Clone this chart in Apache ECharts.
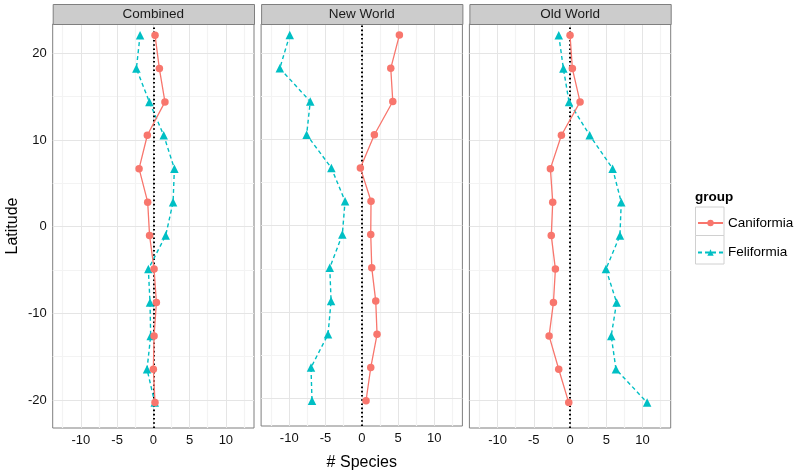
<!DOCTYPE html>
<html><head><meta charset="utf-8">
<script src="https://cdn.jsdelivr.net/npm/echarts@6/dist/echarts.min.js"></script>
<style>html,body{margin:0;padding:0;background:#fff}#c{width:795px;height:476px}</style>
</head><body><div id="c"></div>
<script>
// ---- data ----
const panels = ['Combined', 'New World', 'Old World'];
const groups = ['Caniformia', 'Feliformia'];
const latitude = [22.1, 18.25, 14.4, 10.55, 6.7, 2.83, -1.03, -4.89, -8.74, -12.6, -16.45, -20.3];
const combinedCaniformia = [0.23, 0.83, 1.6, -0.83, -1.97, -0.78, -0.52, 0.1, 0.42, 0.1, 0.0, 0.23];
const combinedFeliformia = [-1.83, -2.34, -0.55, 1.43, 2.9, 2.72, 1.7, -0.69, -0.46, -0.37, -0.87, 0.19];
const newCaniformia = [5.19, 4.0, 4.28, 1.74, -0.19, 1.28, 1.24, 1.38, 1.93, 2.11, 1.24, 0.59];
const newFeliformia = [-9.93, -11.3, -7.1, -7.6, -4.19, -2.3, -2.68, -4.41, -4.23, -4.65, -7.0, -6.86];
const oldCaniformia = [0.0, 0.32, 1.38, -1.19, -2.71, -2.39, -2.59, -2.02, -2.29, -2.89, -1.56, -0.18];
const oldFeliformia = [-1.56, -0.92, -0.14, 2.71, 5.87, 7.06, 6.88, 4.95, 6.42, 5.68, 6.33, 10.63];
const xTickLabels = [-10, -5, 0, 5, 10];
const yTickLabels = [-20, -10, 0, 10, 20];
const xMinor = [-12.5, -7.5, -2.5, 2.5, 7.5, 12.5];
const yMinor = [-15, -5, 5, 15];

// ---- layout / style ----
const FONT = '"Liberation Sans", Arial, Helvetica, sans-serif';
const RED = '#F8766D', TEAL = '#00BFC4';
const panelLefts = [52.7, 261.1, 469.4];
const panelW = 201.3, panelTop = 24, panelH = 404;
const xRange = [-13.88, 13.88];
const yRange = [-23.23, 23.39];
const panelData = [
  [combinedCaniformia, combinedFeliformia],
  [newCaniformia, newFeliformia],
  [oldCaniformia, oldFeliformia]
];
const zip = (xs) => xs.map((v, i) => [v, latitude[i]]);

const grids = [], xAxes = [], yAxes = [], series = [], graphics = [];
panels.forEach((name, p) => {
  grids.push({left: panelLefts[p], top: panelTop, width: panelW, height: panelH,
    show: true, backgroundColor: '#fff', borderColor: '#7f7f7f', borderWidth: 1, z: 0});
  xAxes.push({type: 'value', gridIndex: p, min: xRange[0], max: xRange[1],
    axisLine: {show: false}, splitLine: {show: false},
    axisTick: {show: true, customValues: xTickLabels, length: 5, lineStyle: {color: '#333', width: 1}},
    axisLabel: {customValues: xTickLabels, color: '#111', fontSize: 13, fontFamily: FONT, margin: 6},
    name: p === 1 ? '# Species' : '', nameLocation: 'middle', nameGap: 29,
    nameTextStyle: {fontSize: 16, color: '#000', fontFamily: FONT}});
  yAxes.push({type: 'value', gridIndex: p, min: yRange[0], max: yRange[1],
    axisLine: {show: false}, splitLine: {show: false},
    axisTick: {show: p === 0, customValues: yTickLabels, length: 5, lineStyle: {color: '#333', width: 1}},
    axisLabel: {show: p === 0, customValues: yTickLabels, color: '#111', fontSize: 13, fontFamily: FONT, margin: 6},
    name: p === 0 ? 'Latitude' : '', nameLocation: 'middle', nameGap: 32,
    nameTextStyle: {fontSize: 16, color: '#000', fontFamily: FONT}});
  // gridlines via markLine on helper series
  const gl = [];
  xMinor.forEach(v => gl.push({xAxis: v, lineStyle: {color: '#f3f3f3', width: 1.2, type: 'solid'}}));
  yMinor.forEach(v => gl.push({yAxis: v, lineStyle: {color: '#f3f3f3', width: 1.2, type: 'solid'}}));
  xTickLabels.forEach(v => gl.push({xAxis: v, lineStyle: {color: '#e5e5e5', width: 1, type: 'solid'}}));
  yTickLabels.forEach(v => gl.push({yAxis: v, lineStyle: {color: '#e5e5e5', width: 1, type: 'solid'}}));
  series.push({type: 'line', name: '_grid' + p, xAxisIndex: p, yAxisIndex: p, data: [[0, 0]],
    showSymbol: false, lineStyle: {opacity: 0}, silent: true, z: 1, animation: false,
    markLine: {silent: true, symbol: ['none', 'none'], label: {show: false}, z: 1, animation: false, data: gl}});
  series.push({type: 'line', name: '_zero' + p, xAxisIndex: p, yAxisIndex: p, data: [[0, 0]],
    showSymbol: false, lineStyle: {opacity: 0}, silent: true, z: 2, animation: false,
    markLine: {silent: true, symbol: ['none', 'none'], label: {show: false}, z: 2, animation: false,
      data: [{xAxis: 0, lineStyle: {color: '#000', width: 2, type: [1.6, 2.6]}}]}});
  series.push({type: 'line', name: groups[0], xAxisIndex: p, yAxisIndex: p, data: zip(panelData[p][0]),
    symbol: 'circle', symbolSize: 7.5, showSymbol: true, z: 4, animation: false,
    itemStyle: {color: RED}, lineStyle: {color: RED, width: 1.3, type: 'solid'}});
  series.push({type: 'line', name: groups[1], xAxisIndex: p, yAxisIndex: p, data: zip(panelData[p][1]),
    symbol: 'triangle', symbolSize: 8.5, showSymbol: true, z: 3, animation: false,
    itemStyle: {color: TEAL}, lineStyle: {color: TEAL, width: 1.4, type: [4, 3]}});
  // facet strip
  graphics.push({type: 'rect', left: panelLefts[p], top: 4, z: 10,
    shape: {width: panelW, height: 20}, style: {fill: '#cccccc', stroke: '#7f7f7f', lineWidth: 1}});
  graphics.push({type: 'text', x: panelLefts[p] + panelW / 2, y: 14, z: 11,
    style: {text: name, fill: '#1a1a1a', font: '13.5px ' + FONT, textAlign: 'center', textVerticalAlign: 'middle'}});
});

// legend decorations
graphics.push({type: 'text', x: 695, y: 197, z: 11,
  style: {text: 'group', fill: '#000', font: 'bold 13.5px ' + FONT, textAlign: 'left', textVerticalAlign: 'middle'}});
groups.forEach((g, i) => {
  graphics.push({type: 'rect', x: 695.5, y: 207 + i * 28.5, z: 1,
    shape: {width: 28.5, height: 28.5}, style: {fill: '#fff', stroke: '#d0d0d0', lineWidth: 1}});
});

const chart = echarts.init(document.getElementById('c'), null, {renderer: 'canvas'});
chart.setOption({
  animation: false,
  backgroundColor: '#fff',
  textStyle: {fontFamily: FONT},
  grid: grids, xAxis: xAxes, yAxis: yAxes,
  legend: {data: groups, orient: 'vertical', left: 697, top: 216, padding: 0, itemWidth: 25, itemHeight: 8,
    itemGap: 15.5, textStyle: {fontSize: 13.5, color: '#000', fontFamily: FONT}, selectedMode: false, z: 5},
  series: series,
  graphic: graphics
});
</script></body></html>
